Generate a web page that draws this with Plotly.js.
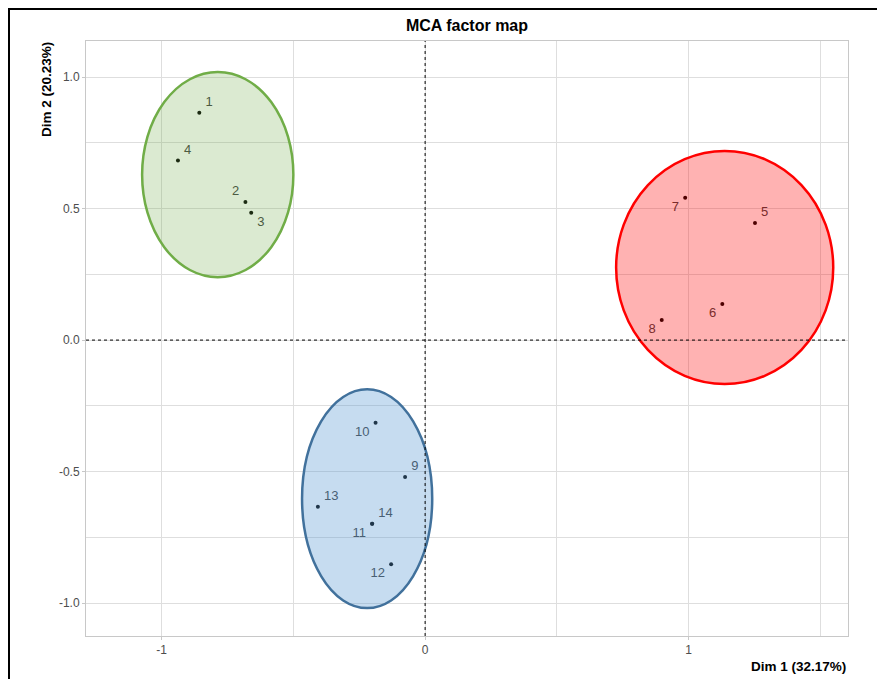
<!DOCTYPE html>
<html>
<head>
<meta charset="utf-8">
<script src="https://cdn.plot.ly/plotly-3.0.1.min.js"></script>
<style>
html,body{margin:0;padding:0;background:#fff;}
#wrap{position:relative;width:877px;height:679px;overflow:hidden;}
#chart{position:absolute;left:0;top:0;width:877px;height:679px;}
.fr{position:absolute;background:#000;}
</style>
</head>
<body>
<div id="wrap">
<div id="chart"></div>
<div class="fr" style="left:8px;top:8px;width:869px;height:2px;"></div>
<div class="fr" style="left:8px;top:8px;width:2px;height:671px;"></div>
</div>
<script>
// Individuals (MCA coordinates)
const labels = ["1","2","3","4","5","6","7","8","9","10","11","12","13","14"];
const dim1 = [-0.857,-0.682,-0.660,-0.938,1.252,1.128,0.987,0.898,-0.076,-0.188,-0.201,-0.129,-0.407,-0.201];
const dim2 = [0.864,0.525,0.484,0.683,0.445,0.137,0.541,0.076,-0.521,-0.314,-0.698,-0.852,-0.634,-0.698];
const labelPos = ["top right","top left","bottom right","top right","top right","bottom left","bottom left","bottom left","top right","bottom left","bottom left","bottom left","top right","top right"];

// Group ellipses
const groupNames = ["green","blue","red"];
const ellCenterX = [-0.787,-0.220,1.137];
const ellCenterY = [0.629,-0.603,0.276];
const ellRadX = [0.287,0.247,0.412];
const ellRadY = [0.390,0.416,0.443];
const ellLine = ["#70ad47","#41719c","#ff0000"];
const ellFill = ["rgba(112,173,71,0.25)","rgba(91,155,213,0.35)","rgba(255,0,0,0.30)"];

// Axis ticks
const xTickVals = [-1,0,1];
const xTickText = ["-1","0","1"];
const yTickVals = [-1,-0.5,0,0.5,1];
const yTickText = ["-1.0","-0.5","0.0","0.5","1.0"];

const font = "Liberation Sans, Arial, sans-serif";

const shapes = [];
for (let i=0;i<groupNames.length;i++){
  shapes.push({type:"circle", xref:"x", yref:"y", layer:"above",
    x0:ellCenterX[i]-ellRadX[i], x1:ellCenterX[i]+ellRadX[i],
    y0:ellCenterY[i]-ellRadY[i], y1:ellCenterY[i]+ellRadY[i],
    line:{color:ellLine[i], width:2.5}, fillcolor:ellFill[i]});
}
shapes.push({type:"line", xref:"x", yref:"paper", x0:0, x1:0, y0:0, y1:1, layer:"above",
  line:{color:"#000", width:1, dash:"3px,3px"}});
shapes.push({type:"line", xref:"paper", yref:"y", x0:0, x1:1, y0:0, y1:0, layer:"above",
  line:{color:"#000", width:1, dash:"3px,3px"}});

const trace = {
  type:"scatter", mode:"markers+text",
  x:dim1, y:dim2, text:labels.map(function(s){return "\u2009"+s+"\u2009";}), textposition:labelPos,
  marker:{color:"#000", size:4},
  textfont:{family:font, size:13, color:"#404040"},
  hoverinfo:"x+y+text", showlegend:false, cliponaxis:false
};

const axisCommon = {
  showline:true, mirror:true, linecolor:"#c8c8c8", linewidth:1,
  showgrid:true, gridcolor:"#dedede", gridwidth:1, zeroline:false,
  ticks:"outside", ticklen:3, tickcolor:"#c8c8c8", tickwidth:1,
  tickfont:{family:font, size:12, color:"#4d4d4d"}
};

const layout = {
  width:877, height:679,
  margin:{l:86, r:29, t:41, b:43},
  paper_bgcolor:"#fff", plot_bgcolor:"#fff",
  title:{text:"<b>MCA factor map</b>", x:0.5, xref:"paper", xanchor:"center",
    y:1-25/679, yref:"container", yanchor:"middle",
    font:{family:font, size:16, color:"#000"}},
  xaxis:Object.assign({}, axisCommon, {range:[-1.287,1.605], tickmode:"array", tickvals:xTickVals, ticktext:xTickText,
    minor:{dtick:0.5, tick0:0, showgrid:true, gridcolor:"#dedede", gridwidth:1}}),
  yaxis:Object.assign({}, axisCommon, {range:[-1.125,1.137], tickmode:"array", tickvals:yTickVals, ticktext:yTickText,
    minor:{dtick:0.25, tick0:0, showgrid:true, gridcolor:"#dedede", gridwidth:1}}),
  shapes:shapes,
  annotations:[
    {text:"<b>Dim 1 (32.17%)</b>", xref:"paper", yref:"paper", x:1, y:-30/595, xanchor:"right", yanchor:"middle",
      showarrow:false, font:{family:font, size:13.5, color:"#000"}},
    {text:"<b>Dim 2 (20.23%)</b>", xref:"paper", yref:"paper", x:-40/762, y:1-49/595, xanchor:"center", yanchor:"middle",
      textangle:-90, showarrow:false, font:{family:font, size:13.5, color:"#000"}}
  ]
};

Plotly.newPlot("chart", [trace], layout, {displayModeBar:false, staticPlot:true});
</script>
</body>
</html>
